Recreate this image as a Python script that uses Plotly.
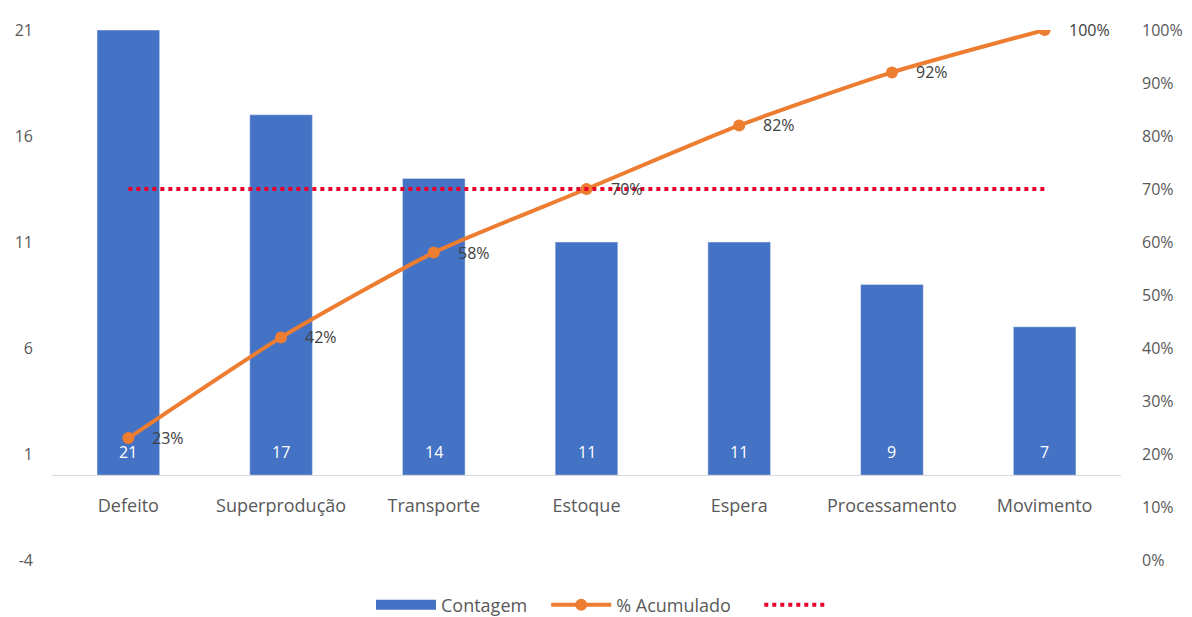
import plotly.graph_objects as go

categories = ["Defeito", "Superprodução", "Transporte", "Estoque", "Espera", "Processamento", "Movimento"]
contagem = [21, 17, 14, 11, 11, 9, 7]
acumulado = [0.23, 0.42, 0.58, 0.70, 0.82, 0.92, 1.00]
meta = [0.70] * len(categories)

left_ticks = [-4, 1, 6, 11, 16, 21]
right_ticks = [0, 0.1, 0.2, 0.3, 0.4, 0.5, 0.6, 0.7, 0.8, 0.9, 1.0]

FONT = "Open Sans"
GRAY = "#595959"
BLUE = "#4472C4"
ORANGE = "#ED7D31"
NB = "\u00a0"

fig = go.Figure()
fig.add_trace(go.Bar(
    x=categories, y=contagem, name="Contagem", marker_color=BLUE, showlegend=False,
    width=0.41, yaxis="y",
))
# legend-only swatch for the bars (wide rectangle like the reference)
fig.add_trace(go.Scatter(
    x=[None], y=[None], name="Contagem" + NB * 3, mode="lines",
    line=dict(color=BLUE, width=11), yaxis="y",
))
fig.add_trace(go.Scatter(
    x=categories, y=acumulado, name="% Acumulado" + NB * 5, mode="lines+markers",
    line=dict(color=ORANGE, width=4, shape="spline", smoothing=0.6), marker=dict(color=ORANGE, size=12),
    yaxis="y2",
))
fig.add_trace(go.Scatter(
    x=categories, y=meta, name=" ", mode="lines",
    line=dict(color="#E8002A", width=4, dash="dot"), yaxis="y2",
))

# bar value labels, near the bar base
for c, v in zip(categories, contagem):
    fig.add_annotation(x=c, y=0, xref="x", yref="y", text=str(v), showarrow=False,
                       yanchor="middle", yshift=23, font=dict(color="white", size=16, family=FONT))
# cumulative % labels, right of each point
for c, v in zip(categories, acumulado):
    fig.add_annotation(x=c, y=v, xref="x", yref="y2", text=f"{round(v*100)}%", showarrow=False,
                       xanchor="left", yanchor="middle", xshift=22,
                       font=dict(color="#404040", size=16, family=FONT))

fig.update_layout(
    width=1192, height=617,
    margin=dict(l=52, r=71, t=30, b=57),
    plot_bgcolor="white", paper_bgcolor="white",
    font=dict(family=FONT, size=16, color=GRAY),
    showlegend=True,
    legend=dict(orientation="h", x=605 / 1192, xanchor="center", xref="container",
                y=(617 - 605) / 617, yanchor="middle", yref="container",
                font=dict(size=18, color=GRAY), itemwidth=60),
    xaxis=dict(anchor="free", position=4/25, showline=True, linecolor="#D9D9D9", linewidth=1,
               showgrid=False, ticks="", ticklabelstandoff=14, automargin=False,
               tickfont=dict(size=18)),
    yaxis=dict(range=[-4, 21], tickvals=left_ticks, ticktext=[str(t) for t in left_ticks],
               showgrid=False, zeroline=False,
               showline=False, ticklabelstandoff=18, automargin=False),
    yaxis2=dict(range=[0, 1], tickvals=right_ticks, tickformat=".0%", overlaying="y", side="right",
                showgrid=False, zeroline=False, showline=False, ticklabelstandoff=20, automargin=False),
    bargap=0.59,
)

fig.write_html("out.html", config={"displayModeBar": False},
               post_script="document.body.style.margin='0';")
